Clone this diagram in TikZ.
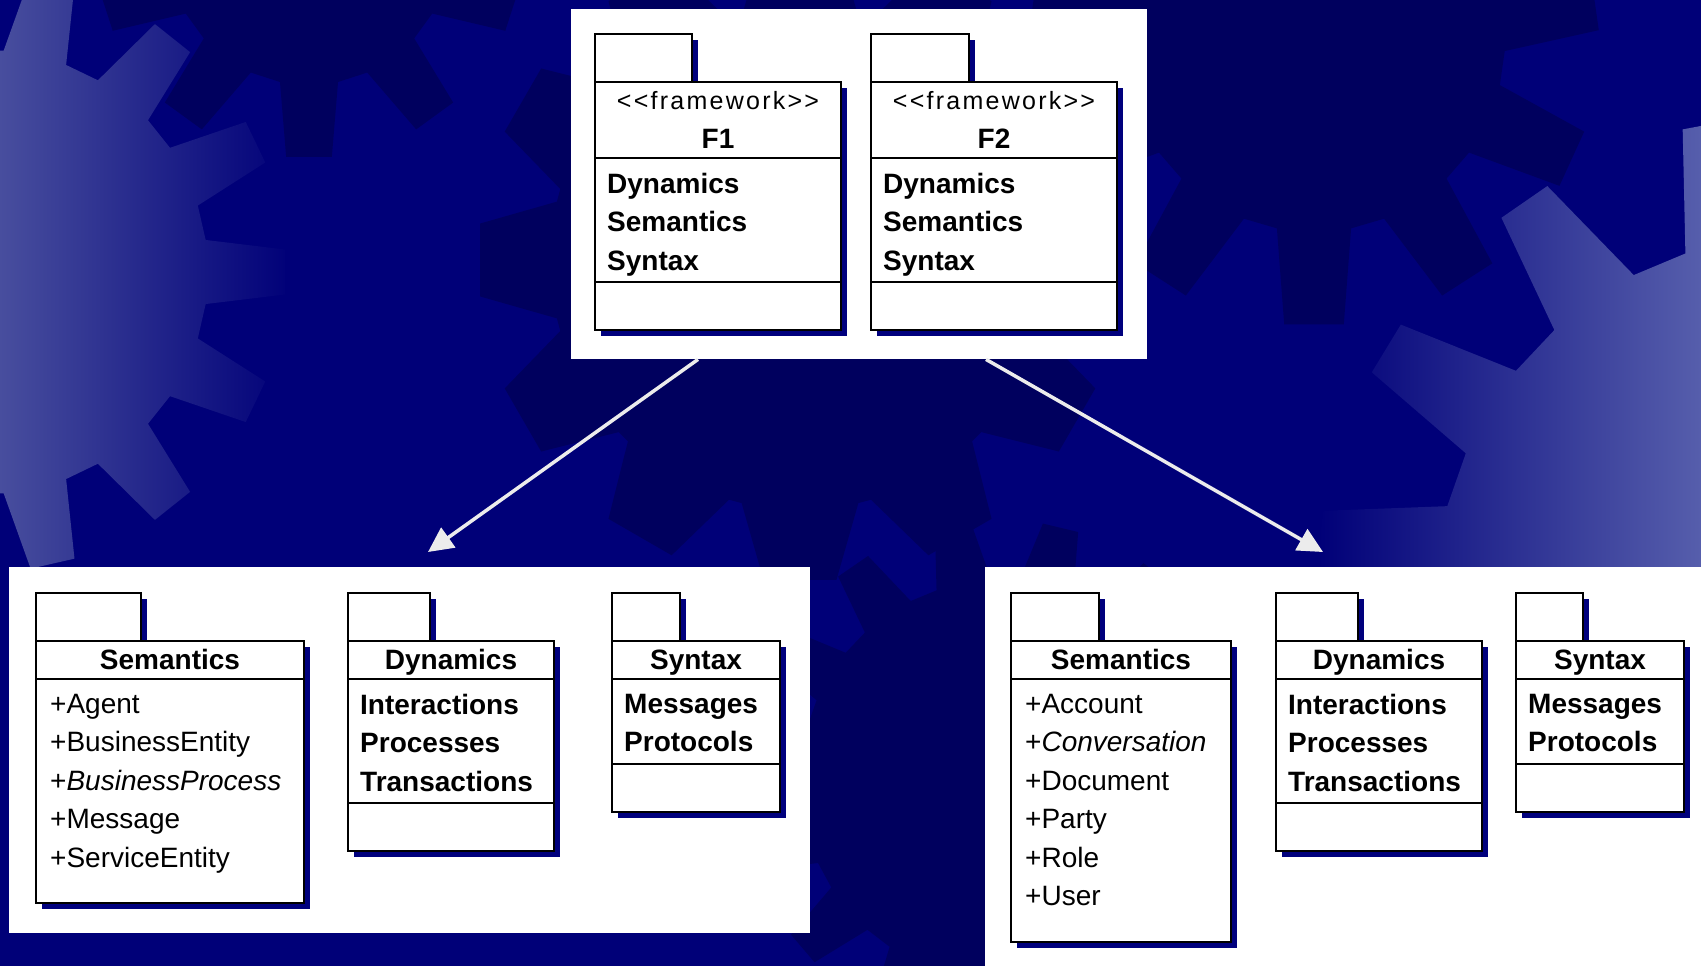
\documentclass[tikz,border=0pt]{standalone}
\usepackage{fontspec}
\setmainfont{Liberation Sans}
\newfontfamily\stereofont[LetterSpace=9,Ligatures=TeXOff]{Liberation Sans}
\usetikzlibrary{arrows.meta}

\definecolor{navybg}{RGB}{0,0,120}
\definecolor{geardark}{RGB}{0,0,94}
\definecolor{gearlightL}{RGB}{72,78,158}
\definecolor{gearmidR}{RGB}{62,68,152}
\definecolor{gearlightR}{RGB}{86,94,172}
\definecolor{pkgblue}{RGB}{0,0,125}
\definecolor{flowgray}{RGB}{236,236,236}

\def\pkgbold{\fontsize{28}{38.5}\selectfont\bfseries}
\def\pkgtext{\fontsize{28}{38.5}\selectfont}
\def\pkgstereo{\stereofont\fontsize{25}{30}\selectfont}

% gear outline: centre x, centre y, teeth, root radius, tip radius, turn, root half angle, tip half angle
\newcommand{\gearpath}[8]{%
	({#1+#4*cos(#6+360/#3-#7)},{#2+#4*sin(#6+360/#3-#7)})
	\foreach \k in {1,...,#3}{
		-- ({#1+#4*cos(#6+\k*360/#3-#7)},{#2+#4*sin(#6+\k*360/#3-#7)})
		-- ({#1+#5*cos(#6+\k*360/#3-#8)},{#2+#5*sin(#6+\k*360/#3-#8)})
		-- ({#1+#5*cos(#6+\k*360/#3+#8)},{#2+#5*sin(#6+\k*360/#3+#8)})
		-- ({#1+#4*cos(#6+\k*360/#3+#7)},{#2+#4*sin(#6+\k*360/#3+#7)})
	} -- cycle}

% package frame: left, tab right, right, body top, bottom
\newcommand{\pkgframe}[5]{%
	\fill[pkgshadow] ({#1+6},{#4-42}) rectangle ({#2+6},{#4+6});
	\fill[pkgshadow] ({#1+6},{#4+6}) rectangle ({#3+6},{#5+6});
	\draw[pkgline] (#1,{#4-48}) rectangle (#2,#4);
	\draw[pkgline] (#1,#4) rectangle (#3,#5);
}

\tikzset{
	panel/.style={fill=white,draw=none,inner sep=0pt,anchor=north west},
	pkgline/.style={draw=black,line width=2pt,fill=white},
	pkgrule/.style={draw=black,line width=2pt},
	pkgshadow/.style={fill=pkgblue},
	pkgname/.style={font=\pkgbold,inner sep=0pt,anchor=base},
	stereo/.style={font=\pkgstereo,inner sep=0pt,anchor=base},
	pkgitems/.style={font=\pkgtext,align=left,inner sep=0pt,anchor=north west},
	pkgbolditems/.style={pkgitems,font=\pkgbold},
	flow/.style={draw=flowgray,line width=3.5pt,-{Triangle[length=25pt,width=24pt,fill=flowgray]}}
}

\begin{document}
\begin{tikzpicture}[x=1pt,y=-1pt]
			\useasboundingbox (0,0) rectangle (1701,966);

			% background gears
			\fill[navybg] (0,0) rectangle (1701,966);
			\fill[geardark] \gearpath{309}{-57}{10}{142}{215}{90}{11.8}{6.1};
			\fill[geardark] \gearpath{1314}{41}{11}{191}{285}{90}{11.2}{6};
			\fill[geardark] \gearpath{800}{260}{12}{250}{322}{90}{13.5}{6.5};
			\fill[geardark] \gearpath{1000}{780}{15}{200}{260}{211.5}{8}{4};
			\begin{scope}
				\clip \gearpath{-14}{272}{14}{222}{300}{0}{8.3}{4.3};
				\shade[left color=gearlightL,right color=navybg] (0,0) rectangle (292,966);
			\end{scope}
			\begin{scope}
				\clip \gearpath{1800}{600}{15}{365}{485}{211.3}{7.6}{3.3};
				\shade[left color=navybg,middle color=gearmidR,right color=gearlightR] (1318,0) rectangle (1701,966);
			\end{scope}

			% white panels
			\node[panel,minimum width=576pt,minimum height=350pt] (frameworks) at (571,9) {};
			\node[panel,minimum width=801pt,minimum height=366pt] (leftmodel) at (9,567) {};
			\node[panel,minimum width=716pt,minimum height=399pt] (rightmodel) at (985,567) {};

			% framework F1
			\pkgframe{595}{692}{841}{82}{330}
			\draw[pkgrule] (595,158) -- (841,158);
			\draw[pkgrule] (595,282) -- (841,282);
			\node[stereo] (f1stereo) at (718,110) {<<framework>>};
			\node[pkgname] (f1name) at (718,148) {F1};
			\node[pkgbolditems] (f1items) at (607,173) {
				Dynamics\\
				Semantics\\
				Syntax
			};

			% framework F2
			\pkgframe{871}{969}{1117}{82}{330}
			\draw[pkgrule] (871,158) -- (1117,158);
			\draw[pkgrule] (871,282) -- (1117,282);
			\node[stereo] (f2stereo) at (994,110) {<<framework>>};
			\node[pkgname] (f2name) at (994,148) {F2};
			\node[pkgbolditems] (f2items) at (883,173) {
				Dynamics\\
				Semantics\\
				Syntax
			};

			% F1 packages, Semantics
			\pkgframe{36}{141}{304}{641}{903}
			\draw[pkgrule] (36,679) -- (304,679);
			\node[pkgname] (semL) at (170,669) {Semantics};
			\node[pkgitems] (semLitems) at (50,694) {
				+Agent\\
				+BusinessEntity\\
				+\textit{BusinessProcess}\\
				+Message\\
				+ServiceEntity
			};

			% F1 packages, Dynamics
			\pkgframe{348}{430}{554}{641}{851}
			\draw[pkgrule] (348,679) -- (554,679);
			\draw[pkgrule] (348,803) -- (554,803);
			\node[pkgname] (dynL) at (451,669) {Dynamics};
			\node[pkgbolditems] (dynLitems) at (360,694) {
				Interactions\\
				Processes\\
				Transactions
			};

			% F1 packages, Syntax
			\pkgframe{612}{680}{780}{641}{812}
			\draw[pkgrule] (612,679) -- (780,679);
			\draw[pkgrule] (612,764) -- (780,764);
			\node[pkgname] (synL) at (696,669) {Syntax};
			\node[pkgbolditems] (synLitems) at (624,694) {
				Messages\\
				Protocols
			};

			% F2 packages, Semantics
			\pkgframe{1011}{1099}{1231}{641}{942}
			\draw[pkgrule] (1011,679) -- (1231,679);
			\node[pkgname] (semR) at (1121,669) {Semantics};
			\node[pkgitems] (semRitems) at (1025,694) {
				+Account\\
				+\textit{Conversation}\\
				+Document\\
				+Party\\
				+Role\\
				+User
			};

			% F2 packages, Dynamics
			\pkgframe{1276}{1358}{1482}{641}{851}
			\draw[pkgrule] (1276,679) -- (1482,679);
			\draw[pkgrule] (1276,803) -- (1482,803);
			\node[pkgname] (dynR) at (1379,669) {Dynamics};
			\node[pkgbolditems] (dynRitems) at (1288,694) {
				Interactions\\
				Processes\\
				Transactions
			};

			% F2 packages, Syntax
			\pkgframe{1516}{1583}{1684}{641}{812}
			\draw[pkgrule] (1516,679) -- (1684,679);
			\draw[pkgrule] (1516,764) -- (1684,764);
			\node[pkgname] (synR) at (1600,669) {Syntax};
			\node[pkgbolditems] (synRitems) at (1528,694) {
				Messages\\
				Protocols
			};

			% refinement arrows
			\coordinate (f1out) at ([xshift=127pt]frameworks.south west);
			\coordinate (f2out) at ([xshift=415pt]frameworks.south west);
			\coordinate (leftin) at ([xshift=419pt,yshift=15pt]leftmodel.north west);
			\coordinate (rightin) at ([xshift=338pt,yshift=15pt]rightmodel.north west);
			\draw[flow] (f1out) -- (leftin);
			\draw[flow] (f2out) -- (rightin);
\end{tikzpicture}
\end{document}
